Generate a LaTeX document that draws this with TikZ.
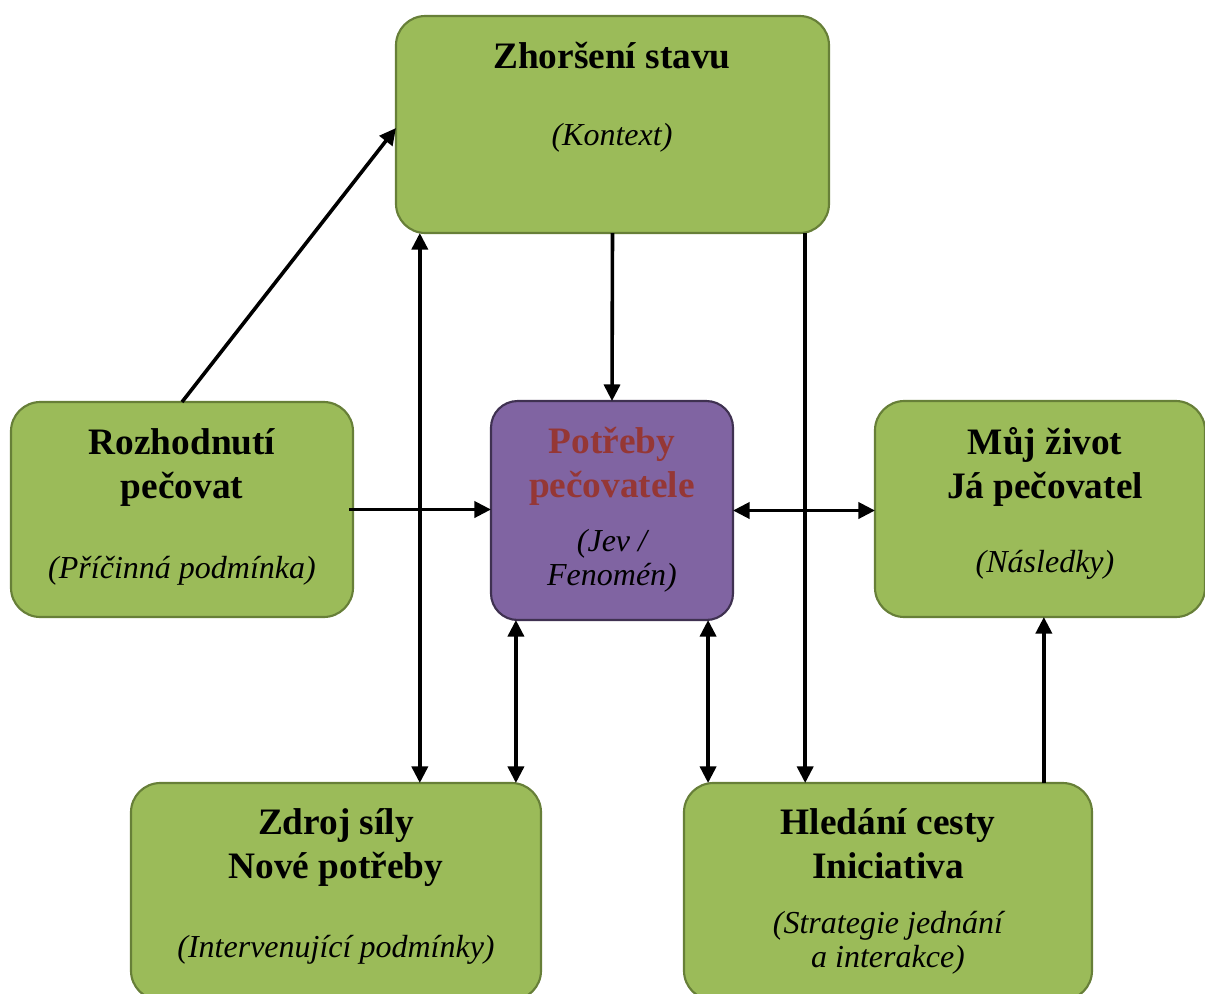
\documentclass[tikz,border=0pt]{standalone}
\usepackage{fontspec}
\setmainfont{Liberation Serif}
\usetikzlibrary{positioning,calc,arrows.meta}

\newdimen\pix
\pix=0.375pt

\definecolor{boxgreen}{HTML}{9BBB59}
\definecolor{boxgreenline}{HTML}{677F38}
\definecolor{boxviolet}{HTML}{8064A2}
\definecolor{boxvioletline}{HTML}{3F3151}
\definecolor{needred}{HTML}{953735}

\tikzset{
greenbox/.style={draw=boxgreenline, fill=boxgreen, line width=0.8pt, rounded corners=11pt, inner sep=0pt, outer sep=0pt},
violetbox/.style={draw=boxvioletline, fill=boxviolet, line width=0.8pt, rounded corners=10pt, inner sep=0pt, outer sep=0pt},
ttl/.style={font=\bfseries\fontsize{14pt}{16.3pt}\selectfont, align=center, anchor=base, inner sep=0pt},
sub/.style={font=\itshape\fontsize{12pt}{12.6pt}\selectfont, align=center, anchor=base, inner sep=0pt},
arr/.style={line width=1.35pt, -{Triangle[length=6.2pt,width=6pt]}},
darr/.style={line width=1.35pt, {Triangle[length=6.2pt,width=6pt]}-{Triangle[length=6.2pt,width=6pt]}}
}

\begin{document}
\begin{tikzpicture}[x=0.375pt, y=-0.375pt]
\useasboundingbox (0,0) rectangle (1205,994);

\node[greenbox, minimum width=433\pix, minimum height=217\pix] (stav) at (612.5,124.5) {};
\node[greenbox, minimum width=342\pix, minimum height=215\pix] (rozh) at (182,509.5) {};
\node[violetbox, minimum width=242\pix, minimum height=219\pix] (potr) at (612,510.5) {};
\node[greenbox, minimum width=330\pix, minimum height=216\pix] (zivot) at (1040,509) {};
\node[greenbox, minimum width=410\pix, minimum height=217\pix] (zdroj) at (336,891.5) {};
\node[greenbox, minimum width=408\pix, minimum height=217\pix] (cesta) at (888,891.5) {};

\node[ttl] (stavT) at (612,68) {Zhoršení stavu};
\node[sub] (stavS) at (612,145) {(Kontext)};
\node[ttl] (rozhT) at (182,498) {Rozhodnutí\\pečovat};
\node[sub] (rozhS) at (182,578) {(Příčinná podmínka)};
\node[ttl, text=needred] (potrT) at (612,497) {Potřeby\\pečovatele};
\node[sub] (potrS) at (612,585) {(Jev /\\Fenomén)};
\node[ttl] (zivotT) at (1045,498) {Můj život\\Já pečovatel};
\node[sub] (zivotS) at (1045,572) {(Následky)};
\node[ttl] (zdrojT) at (336,878) {Zdroj síly\\Nové potřeby};
\node[sub] (zdrojS) at (336,957) {(Intervenující podmínky)};
\node[ttl] (cestaT) at (888,878) {Hledání cesty\\Iniciativa};
\node[sub] (cestaS) at (888,967) {(Strategie jednání\\a interakce)};

\draw[arr] (rozh.north) -- ([yshift=-3.5\pix]stav.west);
\draw[arr] (stav.south) -- (potr.north);
\draw[arr] ($(stav.south west)!0.945!(stav.south east)$) coordinate (s1) -- (s1 |- cesta.north);
\draw[darr] ($(stav.south west)!0.055!(stav.south east)$) coordinate (s2) -- (s2 |- zdroj.north);
\draw[arr] ([xshift=-4\pix]rozh.east) -- (rozh.east -| potr.west);
\draw[darr] (potr.east) -- (potr.east -| zivot.west);
\draw[darr] ($(potr.south west)!0.103!(potr.south east)$) coordinate (p1) -- (p1 |- zdroj.north);
\draw[darr] ($(potr.south west)!0.897!(potr.south east)$) coordinate (p2) -- (p2 |- cesta.north);
\draw[arr] ($(cesta.north west)!0.882!(cesta.north east)$) coordinate (c1) -- (c1 |- zivot.south);
\end{tikzpicture}
\end{document}
